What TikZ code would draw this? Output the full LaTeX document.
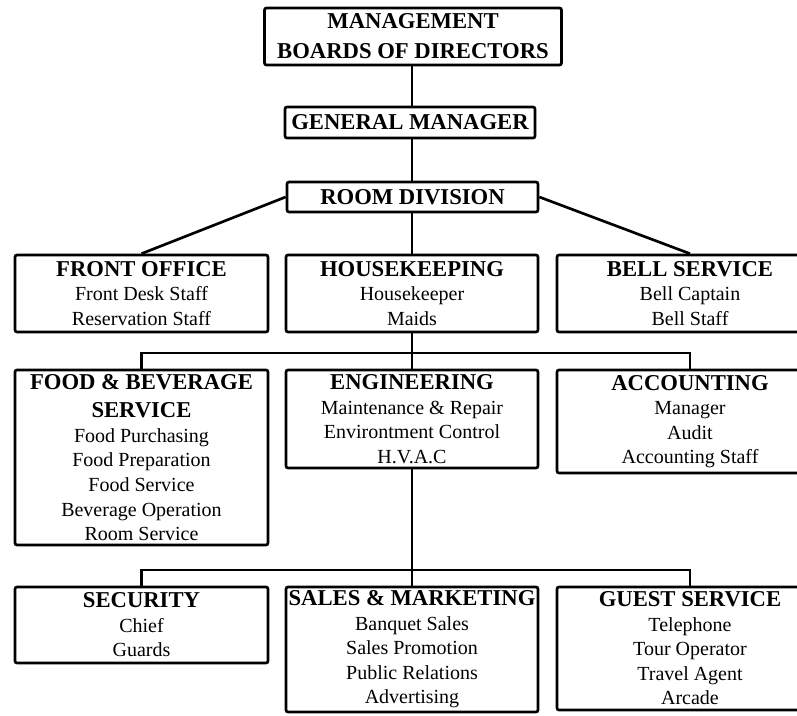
\documentclass[tikz,border=0pt]{standalone}
\usepackage{fontspec}
\setmainfont{Liberation Serif}

\newcommand*{\hdfont}{\fontsize{17}{21}\selectfont\bfseries}
\newcommand*{\topfont}{\fontsize{17}{22.5}\selectfont\bfseries}
\newcommand*{\itemfont}{\fontsize{15}{18.4}\selectfont}

\begin{document}
\begin{tikzpicture}
[
	x=0.75pt,
	y=-0.75pt,
	unit/.style={draw,line width=2pt,rounded corners=1.5pt,align=center,inner sep=0pt,font=\itemfont},
	boxsize/.style 2 args={minimum width=#1*0.75pt,minimum height=#2*0.75pt},
	link/.style={line width=2pt}
]

	\clip (0,0) rectangle (797,715);

	% top of the chart
	\node[unit,boxsize={297}{57},font=\topfont] (mgmt) at (413,36.5)
	  {MANAGEMENT\\BOARDS OF DIRECTORS};
	\node[unit,boxsize={250}{31},font=\hdfont] (gm) at (410,122.5) {GENERAL MANAGER};
	\node[unit,boxsize={251}{30},font=\hdfont] (rd) at (412.5,197) {ROOM DIVISION};

	% second row
	\node[unit,boxsize={253}{77}] (fo) at (141.5,293.5)
	  {{\hdfont FRONT OFFICE}\\Front Desk Staff\\Reservation Staff};
	\node[unit,boxsize={252}{77}] (hk) at (412,293.5)
	  {{\hdfont HOUSEKEEPING}\\Housekeeper\\Maids};
	\node[unit,boxsize={266}{77}] (bs) at (690,293.5)
	  {{\hdfont BELL SERVICE}\\Bell Captain\\Bell Staff};

	% third row
	\node[unit,boxsize={253}{175}] (fb) at (141.5,457.5)
	  {{\hdfont FOOD \& BEVERAGE}\\[3pt]{\hdfont SERVICE}\\Food Purchasing\\Food Preparation\\Food Service\\Beverage Operation\\Room Service};
	\node[unit,boxsize={252}{98}] (en) at (412,419)
	  {{\hdfont ENGINEERING}\\Maintenance \& Repair\\Environtment Control\\H.V.A.C};
	\node[unit,boxsize={266}{103}] (ac) at (690,421.5)
	  {{\hdfont ACCOUNTING}\\Manager\\Audit\\Accounting Staff};

	% fourth row
	\node[unit,boxsize={253}{76}] (se) at (141.5,625)
	  {{\hdfont SECURITY}\\Chief\\Guards};
	\node[unit,boxsize={252}{125}] (sm) at (412,649.5)
	  {{\hdfont SALES \& MARKETING}\\Banquet Sales\\Sales Promotion\\Public Relations\\Advertising};
	\node[unit,boxsize={266}{123}] (gs) at (690,648.5)
	  {{\hdfont GUEST SERVICE}\\Telephone\\Tour Operator\\Travel Agent\\Arcade};

	% bus lines
	\coordinate (busa) at (412,353);
	\coordinate (busb) at (412,570);

	% connectors
	\draw[link] (mgmt.south -| hk.north) -- (gm.north -| hk.north);
	\draw[link] (gm.south -| hk.north) -- (rd.north -| hk.north);
	\draw[link] (rd.west) -- (fo.north);
	\draw[link] (rd.east) -- (bs.north);
	\draw[link] (rd.south -| hk.north) -- (hk.north);
	\draw[link] (hk.south) -- (en.north);
	\draw[link] (fb.north) |- (busa) -| (ac.north);
	\draw[link] (en.south) -- (sm.north);
	\draw[link] (se.north) |- (busb) -| (gs.north);

\end{tikzpicture}
\end{document}
